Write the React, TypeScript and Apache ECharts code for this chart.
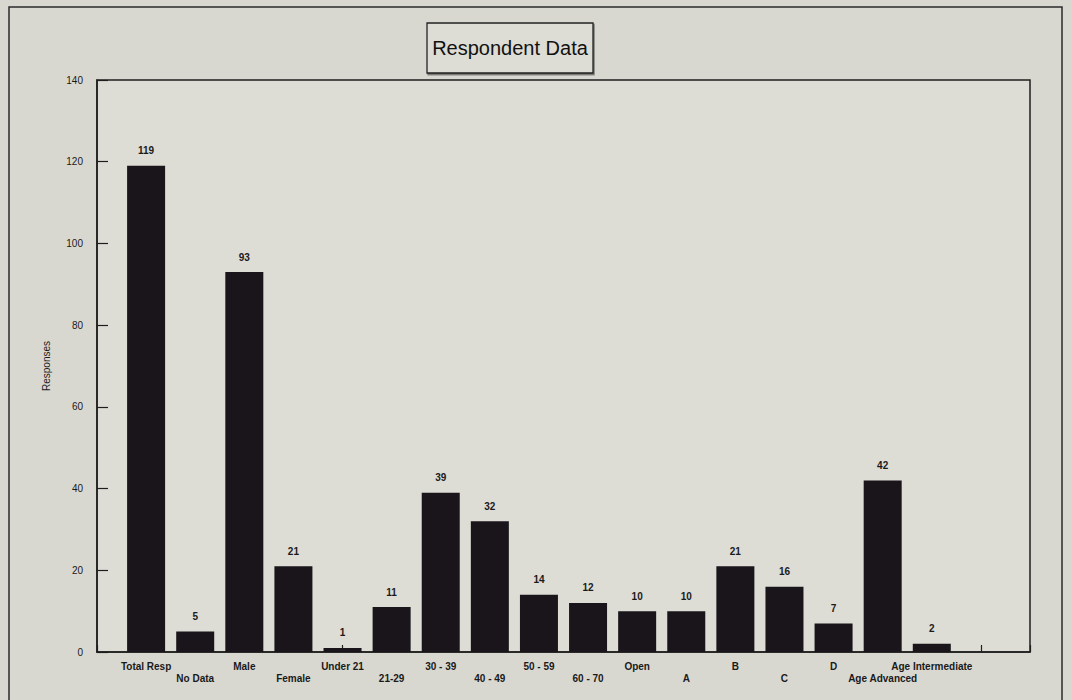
import React, { useEffect, useRef } from "react";
import * as echarts from "echarts";

// Categories (empty strings pad the axis where the original leaves blank slots)
const categories = [
  "",
  "Total Resp",
  "No Data",
  "Male",
  "Female",
  "Under 21",
  "21-29",
  "30 - 39",
  "40 - 49",
  "50 - 59",
  "60 - 70",
  "Open",
  "A",
  "B",
  "C",
  "D",
  "Age Advanced",
  "Age Intermediate",
  "",
  "",
];
const responses = [null, 119, 5, 93, 21, 1, 11, 39, 32, 14, 12, 10, 10, 21, 16, 7, 42, 2, null, null];
const yTicks = { min: 0, max: 140, interval: 20 };
const titleText = "Respondent Data";
const yAxisName = "Responses";

export default function App() {
  const ref = useRef<HTMLDivElement>(null);
  useEffect(() => {
    if (!ref.current) return;
    const chart = echarts.init(ref.current, null, { renderer: "svg" });
    const font = "Liberation Sans, Arial, sans-serif";
    chart.setOption({
      animation: false,
      backgroundColor: "#d9d8d0",
      textStyle: { fontFamily: font },
      grid: {
        left: 97,
        right: 42,
        top: 80,
        bottom: 48,
        show: true,
        borderColor: "#1e1e1e",
        borderWidth: 1.5,
        backgroundColor: "#dddcd5",
      },
      graphic: [
        {
          type: "rect",
          shape: { x: 9, y: 7, width: 1053, height: 720 },
          style: { fill: "none", stroke: "#2a2a2a", lineWidth: 1.5 },
          silent: true,
        },
        {
          type: "rect",
          shape: { x: 427, y: 23, width: 166, height: 50 },
          style: {
            fill: "#dddcd5",
            stroke: "#222",
            lineWidth: 1.3,
            shadowColor: "rgba(0,0,0,0.5)",
            shadowOffsetX: 1,
            shadowOffsetY: 1.5,
            shadowBlur: 0,
          },
          silent: true,
        },
        {
          type: "text",
          x: 510,
          y: 48,
          style: {
            text: titleText,
            fontFamily: font,
            fontSize: 20,
            fill: "#111",
            align: "center",
            verticalAlign: "middle",
          },
          silent: true,
        },
      ],
      xAxis: {
        type: "category",
        data: categories,
        boundaryGap: false,
        axisLine: { show: true, lineStyle: { color: "#1e1e1e", width: 1.5 } },
        axisTick: {
          show: true,
          inside: true,
          length: 7,
          alignWithLabel: true,
          lineStyle: { color: "#1e1e1e", width: 1.2 },
        },
        axisLabel: {
          interval: 0,
          margin: 8,
          fontSize: 10,
          fontWeight: "bold",
          color: "#1a1a1a",
          lineHeight: 12,
          formatter: (v: string, i: number) => (i % 2 === 0 ? "\n" + v : v),
        },
        splitLine: { show: false },
      },
      yAxis: {
        type: "value",
        min: yTicks.min,
        max: yTicks.max,
        interval: yTicks.interval,
        name: yAxisName,
        nameLocation: "middle",
        nameGap: 46,
        nameRotate: 90,
        nameTextStyle: { fontSize: 10, color: "#1a1a1a" },
        axisLine: { show: true, lineStyle: { color: "#1e1e1e", width: 1.5 } },
        axisTick: { show: true, inside: true, length: 11, lineStyle: { color: "#1e1e1e", width: 1.2 } },
        axisLabel: { fontSize: 10, color: "#1a1a1a", margin: 14 },
        splitLine: { show: false },
      },
      series: [
        {
          type: "bar",
          data: responses,
          barWidth: 38,
          itemStyle: { color: "#19151a" },
          label: {
            show: true,
            position: "top",
            distance: 10,
            fontSize: 10,
            fontWeight: "bold",
            color: "#1a1a1a",
          },
        },
      ],
    });
    return () => chart.dispose();
  }, []);
  return (
    <div
      ref={ref}
      style={{ position: "fixed", left: 0, top: 0, width: 1072, height: 700 }}
    />
  );
}
